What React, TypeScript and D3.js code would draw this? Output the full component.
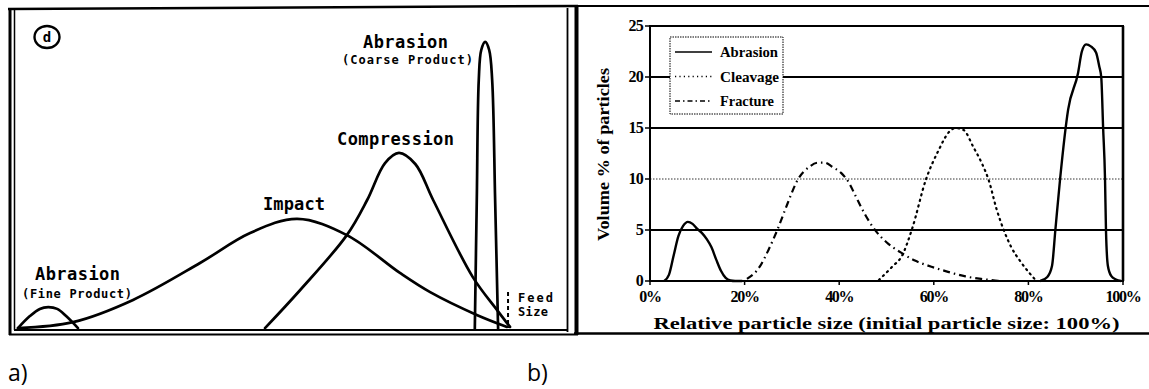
import React from "react";
import * as d3 from "d3";

// ---- Panel a: schematic product size distributions (size relative to feed = 100, arbitrary amount 0-100)
const impactCurve: [number, number][] = [
  [0.4, 0.3], [11.5, 2.3], [23.6, 9.7], [37.1, 22], [47.2, 32], [56.7, 36.7],
  [66.7, 31.3], [77.4, 18.7], [83.5, 12.3], [92.9, 4.7], [99, 0.7],
];
const compressionCurve: [number, number][] = [
  [50.2, 0.3], [57.3, 13], [66.7, 31.3], [70.8, 43], [74.4, 55.3], [77.2, 58.7],
  [80.5, 55], [84.1, 43], [92.1, 17.3], [97, 6.3], [99.6, 0.7],
];
const abrasionCoarseCurve: [number, number][] = [
  [92.5, 0], [92.9, 43], [93.3, 83], [93.8, 93], [94.6, 95.7], [95.4, 93],
  [96, 83], [96.6, 43], [97.2, 0],
];
const abrasionFineCurve: [number, number][] = [
  [0.4, 0.3], [2.8, 4.3], [4.8, 6.7], [6.5, 7.3], [8.3, 6.7], [10.1, 4.3], [12.5, 0.3],
];

// ---- Panel b: measured volume % of particles vs relative particle size (%)
const abrasionLow: [number, number][] = [
  [3, 0], [4, 0.6], [5, 2.5], [6, 4.4], [7, 5.4], [8, 5.8], [9, 5.6], [10, 5.1],
  [11, 4.7], [12, 4.1], [13, 3.3], [14, 2.1], [15, 1.0], [16, 0.3], [17, 0.05], [18, 0], [19.5, 0],
];
const abrasionHigh: [number, number][] = [
  [82.5, 0], [84, 0.4], [85, 1.5], [85.7, 5], [86.7, 10], [88.4, 16.8], [90.5, 20.4],
  [91.3, 22.5], [92.2, 23.2], [93.2, 23], [94.3, 22.4], [95, 21], [95.4, 20], [95.8, 15],
  [96.2, 10], [96.4, 5], [96.8, 1.5], [97.5, 0.5], [98.5, 0.15], [99.6, 0],
];
const cleavage: [number, number][] = [
  [48.4, 0.1], [51.2, 1.4], [53.3, 2.5], [55.4, 5.1], [58.3, 9.9], [61, 12.8], [63.2, 14.6],
  [64.6, 15], [66.3, 14.8], [68.4, 13.1], [70.1, 11.6], [71.6, 9.9], [73.3, 7], [74.7, 5.1],
  [76.4, 3.3], [78.5, 1.8], [81.5, 0.1],
];
const fracture: [number, number][] = [
  [20.5, 0.2], [23.2, 1.4], [25, 3], [27, 5.1], [29, 7.5], [31.2, 9.9], [33.7, 11.2],
  [35.5, 11.6], [37, 11.6], [38.5, 11.2], [40.4, 10.6], [42.1, 9.6], [43.6, 8.2], [45.5, 6.5],
  [47.4, 5.1], [50, 3.8], [53, 2.8], [56, 2.0], [59.5, 1.4], [63, 0.9], [66.7, 0.45],
  [70, 0.2], [73, 0.05], [74, 0],
];
const yTicks = [0, 5, 10, 15, 20, 25];
const xTicks = [0, 20, 40, 60, 80, 100];
const solidGrid = [5, 15, 20];
const dottedGrid = [10];
const legendItems = [
  { name: "Abrasion", dash: "none" },
  { name: "Cleavage", dash: "1.2 3.2" },
  { name: "Fracture", dash: "5 3 1.5 3" },
];

const mono = "'DejaVu Sans Mono', monospace";
const serif = "'Liberation Serif', 'Times New Roman', serif";

export default function App() {
  // panel a scales
  const ax = d3.scaleLinear().domain([0, 100]).range([16, 512]);
  const ay = d3.scaleLinear().domain([0, 100]).range([329, 29]);
  const aLine = d3
    .line<[number, number]>()
    .x((d) => ax(d[0]))
    .y((d) => ay(d[1]))
    .curve(d3.curveCatmullRom.alpha(0.5));

  // panel b scales
  const bx = d3.scaleLinear().domain([0, 100]).range([650, 1123]);
  const by = d3.scaleLinear().domain([0, 25]).range([281, 26]);
  const bLine = d3
    .line<[number, number]>()
    .x((d) => bx(d[0]))
    .y((d) => by(d[1]))
    .curve(d3.curveMonotoneX);

  const ink = "#000";

  return (
    <svg width={1149} height={389} style={{ position: "absolute", left: 0, top: 0, background: "#fff" }}>
      <rect x={0} y={0} width={1149} height={389} fill="#fff" />

      {/* ---------- panel a frame ---------- */}
      <line x1={8} y1={9} x2={578} y2={6} stroke={ink} strokeWidth={2.5} />
      <line x1={10} y1={8} x2={10} y2={335} stroke={ink} strokeWidth={3} />
      <line x1={14.5} y1={10} x2={14.5} y2={330} stroke={ink} strokeWidth={1.5} />
      <line x1={567.5} y1={8} x2={567.5} y2={332} stroke={ink} strokeWidth={1.8} />
      <line x1={14} y1={330} x2={568} y2={330} stroke={ink} strokeWidth={1.8} />
      <line x1={9} y1={334.5} x2={578} y2={334.5} stroke={ink} strokeWidth={2.2} />

      {/* circled panel tag */}
      <ellipse cx={47} cy={37} rx={12.5} ry={11} fill="none" stroke={ink} strokeWidth={2.4} />
      <text x={47} y={42} textAnchor="middle" fontFamily={mono} fontWeight="bold" fontSize={14}>d</text>

      {/* curves */}
      <g fill="none" stroke={ink} strokeWidth={2.7} strokeLinejoin="round" strokeLinecap="round">
        <path d={aLine(impactCurve) ?? ""} />
        <path d={aLine(compressionCurve) ?? ""} />
        <path d={aLine(abrasionCoarseCurve) ?? ""} />
        <path d={aLine(abrasionFineCurve) ?? ""} />
      </g>
      <line x1={ax(99.2)} y1={292} x2={ax(99.2)} y2={328} stroke={ink} strokeWidth={2} strokeDasharray="4 3" />

      {/* labels */}
      <g fontFamily={mono} fontWeight="bold" fill={ink}>
        <text x={363} y={48} fontSize={17} textLength={85} lengthAdjust="spacing">Abrasion</text>
        <text x={342} y={64} fontSize={12} textLength={131} lengthAdjust="spacing">(Coarse Product)</text>
        <text x={337} y={145} fontSize={17} textLength={117} lengthAdjust="spacing">Compression</text>
        <text x={263} y={210} fontSize={17} textLength={62} lengthAdjust="spacing">Impact</text>
        <text x={35} y={280} fontSize={17} textLength={85} lengthAdjust="spacing">Abrasion</text>
        <text x={22} y={298} fontSize={12} textLength={110} lengthAdjust="spacing">(Fine Product)</text>
        <text x={518} y={302} fontSize={12} textLength={35} lengthAdjust="spacing">Feed</text>
        <text x={518} y={316} fontSize={12} textLength={30} lengthAdjust="spacing">Size</text>
      </g>

      {/* ---------- panel b frame ---------- */}
      <line x1={576.5} y1={5} x2={576.5} y2={335} stroke={ink} strokeWidth={4} />
      <line x1={576} y1={6} x2={1149} y2={6} stroke={ink} strokeWidth={2.2} />
      <line x1={574} y1={333.5} x2={1149} y2={333.5} stroke={ink} strokeWidth={2.6} />

      {/* gridlines */}
      {solidGrid.map((v) => (
        <line key={`g${v}`} x1={bx(0)} x2={bx(100)} y1={by(v)} y2={by(v)} stroke={ink} strokeWidth={2} />
      ))}
      {dottedGrid.map((v) => (
        <line key={`d${v}`} x1={bx(0)} x2={bx(100)} y1={by(v)} y2={by(v)} stroke="#333" strokeWidth={1} strokeDasharray="1.5 1.5" />
      ))}

      {/* plot border */}
      <rect x={bx(0)} y={by(25)} width={bx(100) - bx(0)} height={by(0) - by(25)} fill="none" stroke={ink} strokeWidth={2} />
      <line x1={bx(100)} x2={bx(100)} y1={by(25)} y2={by(0)} stroke={ink} strokeWidth={2.6} />

      {/* y axis ticks */}
      {yTicks.map((v) => (
        <g key={`y${v}`}>
          <line x1={bx(0) - 5} x2={bx(0)} y1={by(v)} y2={by(v)} stroke={ink} strokeWidth={1.5} />
          <text x={bx(0) - 7} y={by(v) + 5} textAnchor="end" fontFamily={serif} fontWeight="bold" fontSize={16} letterSpacing={-0.8}>
            {v}
          </text>
        </g>
      ))}
      {/* x axis ticks */}
      {xTicks.map((v) => (
        <g key={`x${v}`}>
          <line x1={bx(v)} x2={bx(v)} y1={by(0)} y2={by(0) + 4} stroke={ink} strokeWidth={1.5} />
          <text x={bx(v)} y={302} textAnchor="middle" fontFamily={serif} fontWeight="bold" fontSize={16} letterSpacing={-1.3}>
            {`${v}%`}
          </text>
        </g>
      ))}

      {/* axis titles */}
      <text x={bx(50)} y={329} textAnchor="middle" fontFamily={serif} fontWeight="bold" fontSize={17} textLength={466} lengthAdjust="spacingAndGlyphs">
        Relative particle size (initial particle size: 100%)
      </text>
      <text transform={`translate(609,${by(12.5) + 1}) rotate(-90)`} textAnchor="middle" fontFamily={serif} fontWeight="bold" fontSize={16} textLength={173} lengthAdjust="spacingAndGlyphs">
        Volume % of particles
      </text>

      {/* series */}
      <g fill="none" stroke={ink} strokeLinejoin="round">
        <path d={bLine(abrasionLow) ?? ""} strokeWidth={2.4} />
        <path d={bLine(abrasionHigh) ?? ""} strokeWidth={2.4} />
        <path d={bLine(cleavage) ?? ""} strokeWidth={2.2} strokeDasharray="1.2 4.5" strokeLinecap="round" />
        <path d={bLine(fracture) ?? ""} strokeWidth={2.2} strokeDasharray="7 4 1.5 4" />
      </g>

      {/* legend */}
      <g>
        <rect x={670} y={37} width={113} height={77} fill="#fff" stroke={ink} strokeWidth={1} strokeDasharray="1.5 1" />
        {legendItems.map((item, i) => {
          const y = 52 + i * 24.5;
          return (
            <g key={item.name}>
              <line x1={675} x2={712} y1={y} y2={y} stroke={ink} strokeWidth={1.5} strokeDasharray={item.dash} />
              <text x={720} y={y + 5} fontFamily={serif} fontWeight="bold" fontSize={15} textLength={item.name === "Abrasion" ? 58 : item.name === "Cleavage" ? 59 : 54} lengthAdjust="spacingAndGlyphs">
                {item.name}
              </text>
            </g>
          );
        })}
      </g>

      {/* panel captions */}
      <text x={8} y={381} fontFamily="'Open Sans', sans-serif" fontSize={23}>a)</text>
      <text x={527} y={381} fontFamily="'Open Sans', sans-serif" fontSize={23}>b)</text>
    </svg>
  );
}
